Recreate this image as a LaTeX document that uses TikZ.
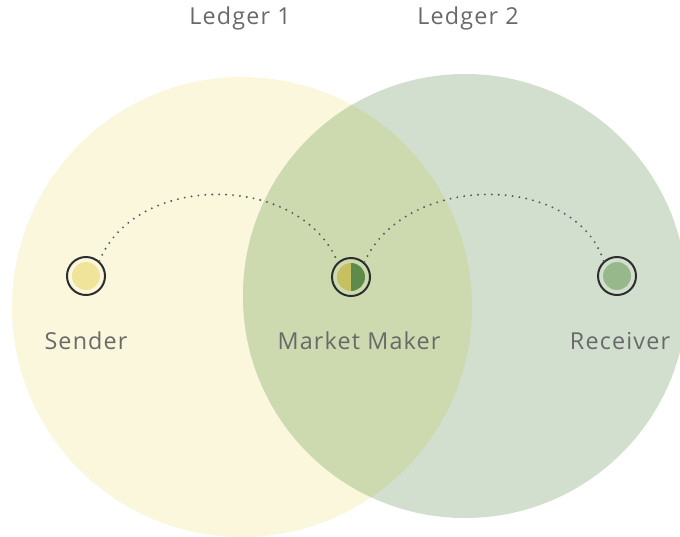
\documentclass[tikz,border=0pt]{standalone}
\usepackage{fontspec}
\setmainfont{Open Sans}[LetterSpace=5]
\usetikzlibrary{calc}
\definecolor{ylw}{RGB}{250,247,220}
\definecolor{grn}{RGB}{210,223,207}
\definecolor{ovl}{RGB}{205,217,174}
\definecolor{ring}{RGB}{45,45,45}
\definecolor{sfill}{RGB}{240,227,154}
\definecolor{mleft}{RGB}{198,192,96}
\definecolor{mright}{RGB}{94,138,74}
\definecolor{rfill}{RGB}{150,184,138}
\definecolor{dotc}{RGB}{70,95,95}
\definecolor{txt}{RGB}{105,105,105}
\begin{document}
\begin{tikzpicture}[x=0.75pt,y=-0.75pt,
  lbl/.style={text=txt,font=\fontsize{17.5}{20}\selectfont},
  ringc/.style={circle,draw=ring,line width=1.5pt,minimum size=28.5pt,inner sep=0pt},
  dotline/.style={dash pattern=on 0pt off 5.2pt,line width=1.6pt,dotc,line cap=round}]
\useasboundingbox (0,0) rectangle (680,536);
\clip (0,0) rectangle (680,536);
\fill[ylw] (242,307) circle (230);
\fill[grn] (465,296) circle (222);
\begin{scope}
\clip (242,307) circle (230);
\fill[ovl] (465,296) circle (222);
\end{scope}
% nodes
\node[ringc] (s) at (86,276) {};
\fill[sfill] (s.center) circle (14);
\node[ringc] (m) at (351,277) {};
\fill[mleft] ($(m.center)+(0,-14)$) arc (270:90:14) -- cycle;
\fill[mright] ($(m.center)+(0,-14)$) arc (-90:90:14) -- cycle;
\node[ringc] (r) at (617,276) {};
\fill[rfill] (r.center) circle (14);
% arcs
\draw[dotline] (s.48) .. controls (135,172) and (300,172) .. (m.132);
\draw[dotline] (m.48) .. controls (405,172) and (575,172) .. (r.132);
% labels
\node[lbl] (ls) at (86,341) {Sender};
\node[lbl] (lm) at (359,341) {Market Maker};
\node[lbl] (lr) at (620,341) {Receiver};
\node[lbl] (l1) at (240,18) {Ledger 1};
\node[lbl] (l2) at (468,18) {Ledger 2};
\end{tikzpicture}
\end{document}
